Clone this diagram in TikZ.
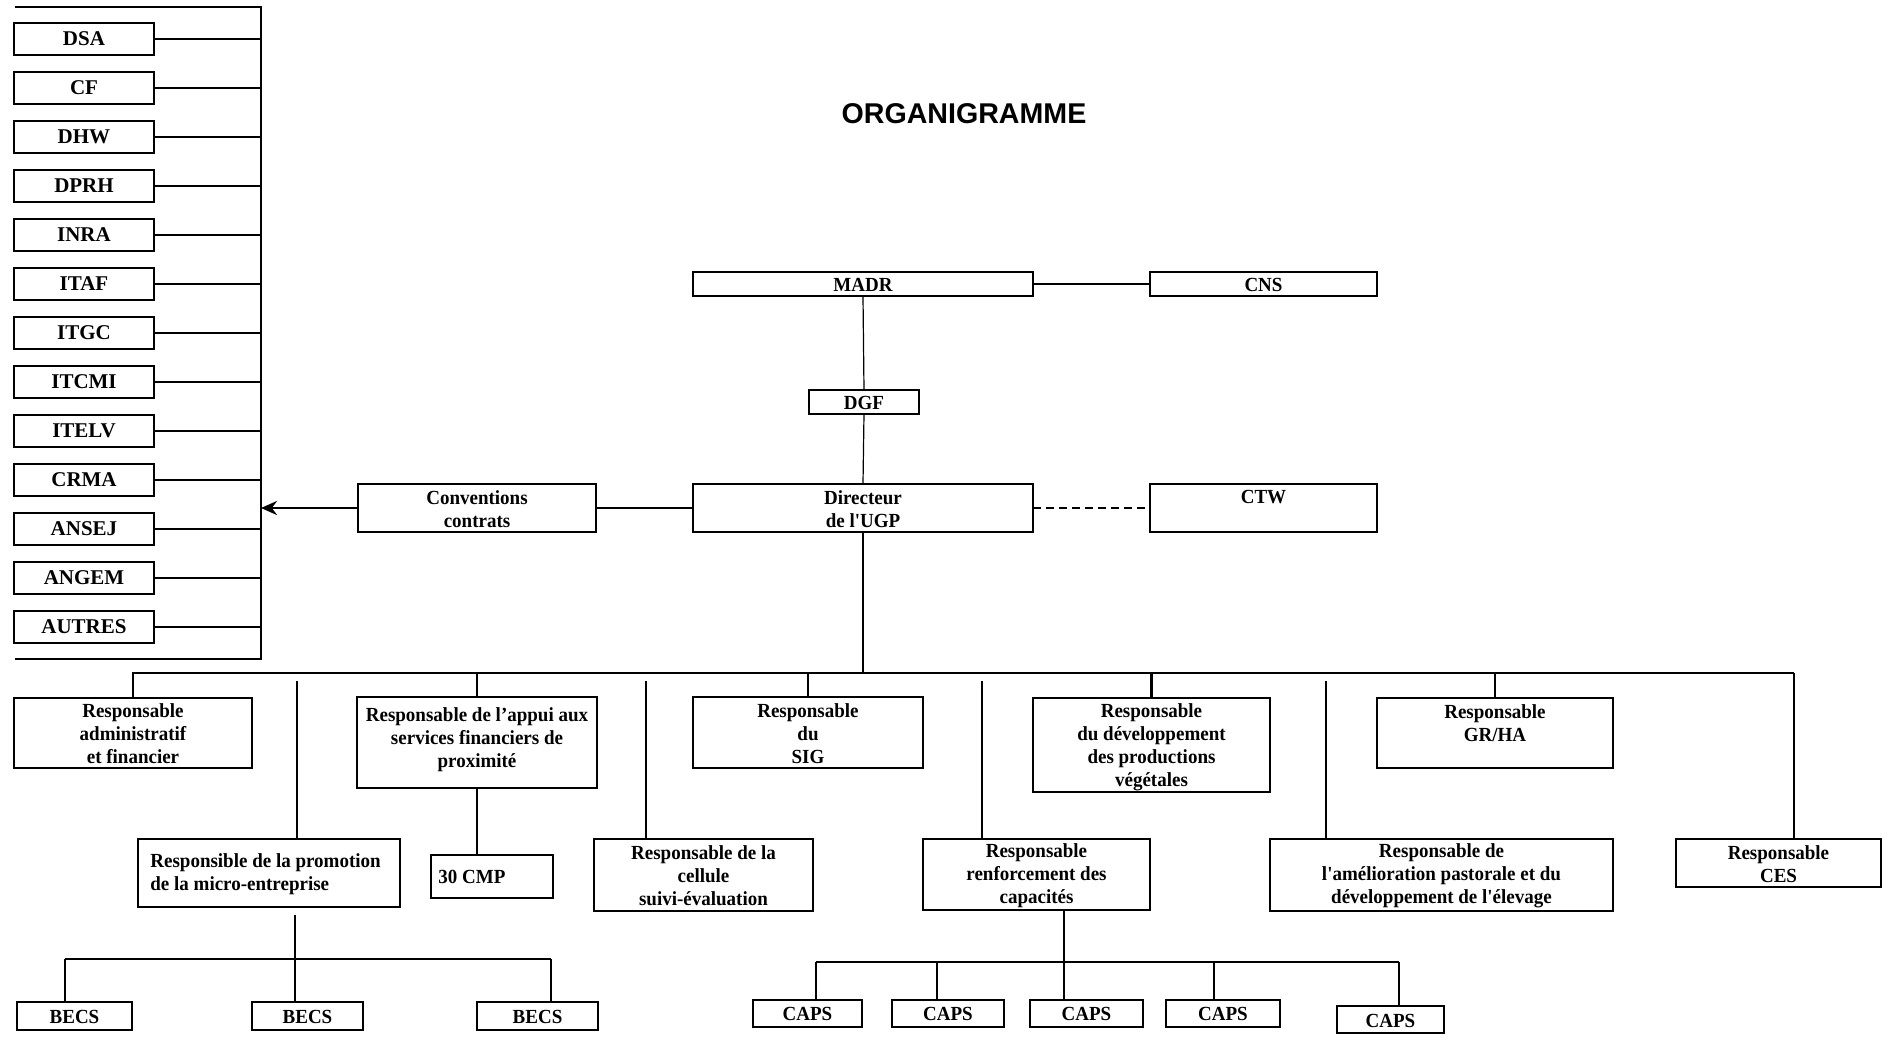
\documentclass[tikz,border=0pt]{standalone}
\usepackage{fontspec}
\setmainfont{Liberation Serif}[Ligatures=TeXOff]
\newfontfamily\boxfont{Liberation Serif}[Ligatures=TeXOff,FakeStretch=0.95]
\newfontfamily\titlefont{Liberation Sans}
\usetikzlibrary{arrows.meta}
\tikzset{
  boxst/.style={draw, line width=1.4pt, inner sep=0pt, outer sep=0pt},
  txt/.style={font=\boxfont\bfseries\fontsize{10}{11.5}\selectfont, align=center, inner sep=0pt},
  ltxt/.style={font=\bfseries\fontsize{10.5}{12}\selectfont},
  lbox/.style={boxst, minimum width=70pt, minimum height=16pt, ltxt},
  thk/.style={line width=1.4pt},
  med/.style={line width=0.8pt},
  thn/.style={line width=0.6pt},
}
\newcommand\obox[8][]{%
  \node[boxst,#1,minimum width={(#5-#3)*0.5pt},minimum height={(#6-#4)*0.5pt}] (#2) at ({(#3+#5)/2},{(#4+#6)/2}) {};
  \node[txt] (#2-t) at ({(#3+#5)/2},#7) {#8};}
\begin{document}
\begin{tikzpicture}[x=0.5pt,y=-0.5pt]
\fill[white] (0,0) rectangle (1887,1040);
\useasboundingbox (0,0) rectangle (1887,1040);

% title
\node[font=\titlefont\bfseries\fontsize{14.3}{16}\selectfont, anchor=base, inner sep=0pt] (title) at (964,123) {ORGANIGRAMME};

% left column
\coordinate (lt) at (15,7);
\coordinate (ltr) at (261,7);
\coordinate (lbr) at (261,659);
\coordinate (lb) at (15,659);
\draw[line width=1.4pt] (lt) -- (ltr) -- (lbr) -- (lb);
\foreach \t [count=\i] in {DSA,CF,DHW,DPRH,INRA,ITAF,ITGC,ITCMI,ITELV,CRMA,ANSEJ,ANGEM,AUTRES}{
  \node[lbox] (l\i) at (84,{39+49*(\i-1)}) {\t};
  \draw[line width=1.2pt] (l\i.east) -- (l\i.east -| ltr);
}

% upper part
\obox{madr}{693}{272}{1033}{296}{285}{MADR}
\obox{cns}{1150}{272}{1377}{296}{285}{CNS}
\obox{dgf}{809}{390}{919}{414}{403}{DGF}
\obox{dir}{693}{484}{1033}{532}{509}{Directeur\\de l'UGP}
\obox{ctw}{1150}{484}{1377}{532}{497}{CTW}
\obox{conv}{358}{484}{596}{532}{509}{Conventions\\contrats}

\draw[thn] (madr.east) -- (cns.west);
\draw[thn] (madr.south) -- (dgf.north);
\draw[thn] (dgf.south) -- (dir.north);
\draw[thk, dash pattern=on 4pt off 2.5pt] (dir.east) -- (ctw.west);
\draw[thk] (conv.east) -- (dir.west);
\coordinate (arr) at (261,508);
\draw[thk, -{Stealth[length=8pt,width=7pt]}] (conv.west) -- (arr);

% second level
\obox{adm}{14}{698}{252}{768}{734}{Responsable\\administratif\\et financier}
\obox{appui}{357}{697}{597}{788}{740}{Responsable de l’appui aux\\services financiers de\\proximité}
\obox{sig}{693}{697}{923}{768}{734}{Responsable\\du\\SIG}
\obox{veg}{1033}{698}{1270}{792}{747}{Responsable\\du développement\\des productions\\végétales}
\obox{grha}{1377}{698}{1613}{768}{723}{Responsable\\GR/HA}

\node[boxst, line width=0.8pt, minimum width=131pt, minimum height=34pt] (promo) at (269,873) {};
\node[txt, align=left, anchor=west] (promo-t) at (150,874) {Responsible de la promotion\\de la micro-entreprise};
\node[boxst, line width=0.9pt, minimum width=61pt, minimum height=21.5pt] (cmp) at (492,876.5) {};
\node[txt, anchor=west] (cmp-t) at (438,877) {30 CMP};

\obox{suivi}{594}{839}{813}{911}{876}{Responsable de la\\cellule\\suivi-évaluation}
\obox{renf}{923}{839}{1150}{910}{876}{Responsable\\renforcement des\\capacités}
\obox{past}{1270}{839}{1613}{911}{876}{Responsable de\\l'amélioration pastorale et du\\développement de l'élevage}
\obox{ces}{1676}{839}{1881}{887}{864}{Responsable\\CES}

% bus
\coordinate (bL) at (132,673);
\coordinate (bR) at (1794,673);
\draw[thk] (bL) -- (bR);
\draw[thn] (dir.south) -- (dir.south |- bL);
\draw[thk] (adm.north) -- (adm.north |- bL);
\draw[thk] (appui.north) -- (appui.north |- bL);
\draw[thk] (sig.north) -- (sig.north |- bL);
\draw[thk] (veg.north) -- (veg.north |- bL);
\draw[thk] (grha.north) -- (grha.north |- bL);
\draw[thk] (bR) -- (bR |- ces.north);
\coordinate (d1) at (297,681);
\coordinate (d2) at (646,681);
\coordinate (d3) at (982,681);
\coordinate (d4) at (1326,681);
\draw[thn] (d1) -- (d1 |- promo.north);
\draw[thn] (d2) -- (d2 |- suivi.north);
\draw[thn] (d3) -- (d3 |- renf.north);
\draw[thn] (d4) -- (d4 |- past.north);
\draw[med] (appui.south) -- (appui.south |- cmp.north);

% BECS
\obox{becs1}{17}{1002}{132}{1030}{1017}{BECS}
\obox{becs2}{252}{1002}{363}{1030}{1017}{BECS}
\obox{becs3}{477}{1002}{598}{1030}{1017}{BECS}
\coordinate (pb) at (295,915);
\coordinate (bh1) at (65,959);
\coordinate (bh3) at (551,959);
\draw[med] (pb) -- (pb |- becs2.north);
\draw[med] (bh1) -- (bh3);
\draw[med] (bh1) -- (bh1 |- becs1.north);
\draw[med] (bh3) -- (bh3 |- becs3.north);

% CAPS
\obox{caps1}{753}{1000}{862}{1027}{1014}{CAPS}
\obox{caps2}{892}{1000}{1004}{1027}{1014}{CAPS}
\obox{caps3}{1030}{1000}{1143}{1027}{1014}{CAPS}
\obox{caps4}{1166}{1000}{1280}{1027}{1014}{CAPS}
\obox{caps5}{1337}{1006}{1444}{1033}{1021}{CAPS}
\coordinate (rv) at (1064,911);
\coordinate (ch1) at (816,962);
\coordinate (ch2) at (937,962);
\coordinate (ch4) at (1214,962);
\coordinate (ch5) at (1399,962);
\draw[med] (rv) -- (rv |- caps3.north);
\draw[med] (ch1) -- (ch5);
\draw[med] (ch1) -- (ch1 |- caps1.north);
\draw[med] (ch2) -- (ch2 |- caps2.north);
\draw[med] (ch4) -- (ch4 |- caps4.north);
\draw[med] (ch5) -- (ch5 |- caps5.north);
\end{tikzpicture}
\end{document}
